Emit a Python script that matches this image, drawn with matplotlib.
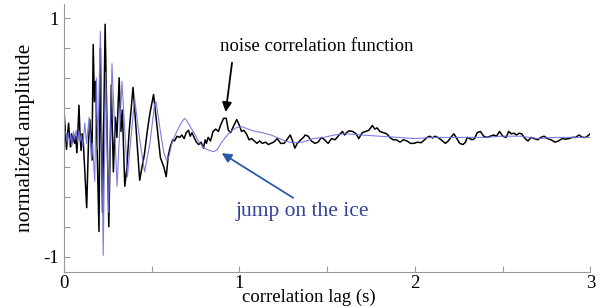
import matplotlib.pyplot as plt
from matplotlib.ticker import FixedLocator, MultipleLocator

# noise correlation function (black)
noise_t = [0.000, 0.008, 0.015, 0.021, 0.027, 0.033, 0.038, 0.044, 0.050, 0.056,
           0.062, 0.068, 0.074, 0.080, 0.086, 0.092, 0.098, 0.104, 0.110, 0.118,
           0.130, 0.140, 0.148, 0.154, 0.160, 0.167, 0.174, 0.181, 0.200, 0.208,
           0.220, 0.235, 0.256, 0.270, 0.282, 0.293, 0.302, 0.315, 0.325, 0.333,
           0.347, 0.358, 0.372, 0.394, 0.410, 0.432, 0.445, 0.458, 0.475, 0.490,
           0.511, 0.530, 0.550, 0.570, 0.583, 0.595, 0.606, 0.620, 0.630, 0.645,
           0.660, 0.672, 0.685, 0.697, 0.710, 0.720, 0.730, 0.742, 0.755, 0.768,
           0.782, 0.795, 0.805, 0.812, 0.822, 0.835, 0.850, 0.865, 0.880, 0.895,
           0.910, 0.925, 0.937, 0.950, 0.962, 0.985, 1.000, 1.012, 1.025, 1.040,
           1.055, 1.070, 1.085, 1.100, 1.115, 1.130, 1.150, 1.165, 1.180, 1.195,
           1.216, 1.235, 1.255, 1.280, 1.290, 1.305, 1.316, 1.330, 1.350, 1.365,
           1.375, 1.392, 1.410, 1.430, 1.448, 1.468, 1.485, 1.505, 1.525, 1.545,
           1.568, 1.587, 1.600, 1.610, 1.625, 1.645, 1.665, 1.680, 1.700, 1.720,
           1.738, 1.757, 1.772, 1.785, 1.800, 1.820, 1.840, 1.857, 1.876, 1.895,
           1.915, 1.935, 1.955, 1.975, 1.995, 2.015, 2.035, 2.055, 2.070, 2.085,
           2.100, 2.115, 2.130, 2.150, 2.165, 2.174, 2.190, 2.210, 2.222, 2.235,
           2.255, 2.274, 2.288, 2.298, 2.313, 2.326, 2.340, 2.355, 2.373, 2.392,
           2.410, 2.430, 2.448, 2.465, 2.482, 2.500, 2.520, 2.534, 2.550, 2.565,
           2.578, 2.593, 2.608, 2.628, 2.644, 2.662, 2.680, 2.700, 2.718, 2.736,
           2.755, 2.775, 2.798, 2.818, 2.838, 2.858, 2.877, 2.896, 2.915, 2.935,
           2.955, 2.975, 2.998]
noise_amp = [0.25, 0.05, -0.10, 0.02, 0.12, -0.02, -0.08, 0.03, -0.04, 0.02,
             -0.05, 0.01, -0.13, 0.05, 0.27, 0.02, -0.11, 0.03, -0.02, -0.25,
             -0.59, -0.05, 0.15, 0.00, -0.19, 0.78, 0.30, 0.47, -0.79, 0.75,
             -0.63, 0.95, -0.75, 0.44, -0.29, 0.17, 0.00, 0.50, 0.05, 0.23,
             -0.41, -0.27, 0.05, 0.42, 0.10, -0.36, -0.25, -0.15, 0.05, 0.20,
             0.36, 0.10, -0.17, -0.25, -0.33, -0.15, -0.08, -0.02, -0.03, 0.01,
             0.00, 0.02, -0.01, 0.04, 0.06, 0.01, 0.04, 0.00, -0.04, -0.06,
             -0.04, -0.09, -0.02, -0.05, 0.00, -0.03, 0.05, 0.07, 0.05, 0.11,
             0.16, 0.16, 0.06, 0.04, 0.08, 0.15, 0.10, 0.05, 0.06, 0.03,
             -0.02, -0.01, -0.03, -0.05, -0.03, -0.05, -0.04, -0.06, -0.05, -0.04,
             -0.01, -0.05, -0.05, 0.00, 0.02, -0.04, -0.09, -0.05, -0.02, 0.00,
             0.02, 0.01, -0.03, -0.05, -0.04, 0.00, -0.02, -0.05, -0.01, -0.02,
             0.02, 0.05, 0.02, 0.04, 0.055, 0.05, 0.03, -0.01, 0.04, 0.05,
             0.06, 0.10, 0.07, 0.08, 0.05, 0.04, 0.03, 0.00, -0.02, -0.02,
             -0.04, -0.02, -0.03, -0.05, -0.05, -0.04, -0.045, -0.02, 0.00, 0.01,
             -0.005, 0.01, 0.00, -0.02, -0.04, -0.05, -0.03, 0.01, 0.03, 0.00,
             -0.05, -0.06, -0.04, 0.00, -0.01, -0.02, -0.01, 0.04, 0.05, 0.01,
             0.00, 0.01, 0.02, 0.01, 0.05, 0.01, 0.00, 0.05, 0.03, 0.035,
             0.02, 0.035, 0.03, -0.01, -0.03, 0.00, -0.01, -0.02, 0.00, 0.01,
             -0.01, -0.02, -0.04, -0.03, -0.01, -0.015, -0.01, 0.00, 0.00, 0.02,
             0.00, 0.00, 0.03]

# jump on the ice (blue)
jump_t = [0.000, 0.010, 0.018, 0.025, 0.032, 0.040, 0.048, 0.055, 0.062, 0.070,
          0.078, 0.086, 0.093, 0.100, 0.108, 0.119, 0.129, 0.144, 0.152, 0.157,
          0.163, 0.176, 0.185, 0.193, 0.208, 0.224, 0.238, 0.255, 0.274, 0.303,
          0.331, 0.362, 0.403, 0.430, 0.460, 0.490, 0.517, 0.525, 0.540, 0.555,
          0.570, 0.587, 0.600, 0.615, 0.640, 0.668, 0.687, 0.700, 0.720, 0.745,
          0.770, 0.800, 0.830, 0.855, 0.875, 0.895, 0.920, 0.950, 0.980, 1.015,
          1.050, 1.090, 1.130, 1.180, 1.230, 1.260, 1.300, 1.360, 1.420, 1.480,
          1.540, 1.600, 1.700, 1.800, 1.900, 2.000, 2.100, 2.200, 2.300, 2.400,
          2.500, 2.600, 2.700, 2.800, 2.900, 3.000]
jump_amp = [0.03, 0.05, -0.04, 0.04, -0.05, 0.02, -0.06, 0.05, -0.02, 0.06,
            -0.04, 0.05, -0.03, 0.02, -0.08, 0.12, -0.05, 0.17, 0.00, -0.19,
            -0.05, -0.37, 0.50, -0.10, 0.89, -0.99, 0.55, -0.63, 0.62, -0.41,
            0.47, -0.33, 0.33, 0.00, -0.29, -0.05, 0.28, 0.30, 0.15, 0.00,
            -0.13, -0.20, -0.15, -0.05, 0.04, 0.12, 0.16, 0.14, 0.09, 0.03,
            -0.04, -0.09, -0.11, -0.12, -0.10, -0.05, 0.00, 0.05, 0.08, 0.09,
            0.07, 0.05, 0.04, 0.02, -0.01, -0.03, -0.045, -0.04, -0.01, 0.00,
            0.02, 0.03, 0.02, 0.01, 0.00, -0.01, 0.00, 0.00, 0.00, 0.00,
            0.01, 0.01, -0.01, 0.00, 0.00, 0.00]

plt.rcParams['font.family'] = ['Liberation Serif', 'DejaVu Serif']
plt.rcParams['axes.unicode_minus'] = False

fig = plt.figure(figsize=(5.97, 3.07), dpi=100)
ax = fig.add_axes([0.107, 0.114, 0.882, 0.873])

ax.plot(noise_t, noise_amp, color='black', linewidth=1.1)
ax.plot(jump_t, jump_amp, color='#7070e0', linewidth=0.8, alpha=0.9)

ax.set_xlim(0, 3)
ax.set_ylim(-1.13, 1.12)

ax.yaxis.set_major_locator(FixedLocator([-1, 1]))
ax.yaxis.set_minor_locator(MultipleLocator(0.25))
ax.xaxis.set_major_locator(MultipleLocator(1))
ax.xaxis.set_minor_locator(MultipleLocator(0.5))
ax.tick_params(which='both', direction='in', color='#999999', labelsize=13.5,
               length=4, width=0.8)
ax.tick_params(axis='x', pad=2)
for side in ['top', 'right']:
    ax.spines[side].set_visible(False)
for side in ['left', 'bottom']:
    ax.spines[side].set_color('#999999')
    ax.spines[side].set_linewidth(0.8)

ax.set_xlabel('correlation lag (s)', fontsize=13.5)
ax.xaxis.set_label_coords(0.465, -0.094)
ax.xaxis.label.set_va('center')
ax.set_ylabel('normalized amplitude', fontsize=15.5)
ax.yaxis.set_label_coords(-0.073, 0.5)
ax.yaxis.label.set_va('center')

ax.annotate('', xy=(0.92, 0.19), xytext=(0.96, 0.65),
            arrowprops=dict(arrowstyle='-|>', color='black', lw=1.3,
                            mutation_scale=14))
ax.text(1.44, 0.76, 'noise correlation function', fontsize=13.5,
        ha='center', va='center', color='black')

ax.annotate('', xy=(0.886, -0.12), xytext=(1.32, -0.52),
            arrowprops=dict(arrowstyle='-|>', color='#2b5ba8', lw=1.3,
                            mutation_scale=14))
ax.text(1.36, -0.62, 'jump on the ice', fontsize=15.5,
        ha='center', va='center', color='#33439a')

plt.savefig('out.png')
